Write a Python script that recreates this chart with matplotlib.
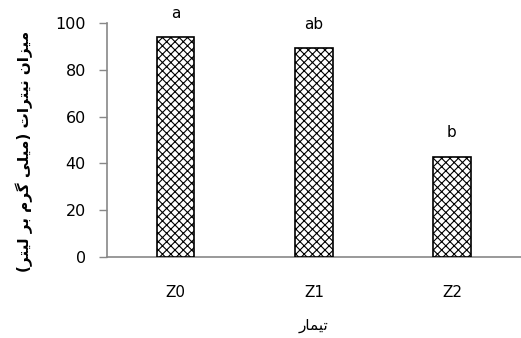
import matplotlib
matplotlib.use('Agg')
import matplotlib.pyplot as plt

treatments = ['Z0', 'Z1', 'Z2']
nitrate = [93.8, 89.2, 42.9]
letters = ['a', 'ab', 'b']
y_label = 'میزان نیترات (میلی گرم بر لیتر)'
x_label = 'تیمار'

# presentation forms: (isolated, final, initial, medial); None -> does not join to next letter
forms = {
    'م': ('\uFEE1', '\uFEE2', '\uFEE3', '\uFEE4'),
    'ی': ('\uFBFC', '\uFBFD', '\uFBFE', '\uFBFF'),
    'ز': ('\uFEAF', '\uFEB0', None, None),
    'ا': ('\uFE8D', '\uFE8E', None, None),
    'ن': ('\uFEE5', '\uFEE6', '\uFEE7', '\uFEE8'),
    'ت': ('\uFE95', '\uFE96', '\uFE97', '\uFE98'),
    'ر': ('\uFEAD', '\uFEAE', None, None),
    'ل': ('\uFEDD', '\uFEDE', '\uFEDF', '\uFEE0'),
    'گ': ('\uFB92', '\uFB93', '\uFB94', '\uFB95'),
    'ب': ('\uFE8F', '\uFE90', '\uFE91', '\uFE92'),
}

def shape(text):
    out = []
    for i, ch in enumerate(text):
        if ch not in forms:
            out.append(ch)
            continue
        prev = text[i - 1] if i > 0 else ''
        nxt = text[i + 1] if i + 1 < len(text) else ''
        joins_prev = prev in forms and forms[prev][2] is not None
        joins_next = nxt in forms and forms[ch][2] is not None
        f = forms[ch]
        if joins_prev and joins_next:
            out.append(f[3])
        elif joins_prev:
            out.append(f[1])
        elif joins_next:
            out.append(f[2])
        else:
            out.append(f[0])
    vis = ''.join(reversed(out))
    return vis.translate(str.maketrans('()', ')('))

plt.rcParams['font.family'] = ['DejaVu Sans']
plt.rcParams['hatch.linewidth'] = 0.8

fig = plt.figure(figsize=(5.21, 3.38), dpi=100)
ax = fig.add_axes([0.205, 0.24, 0.795, 0.692])

x = range(len(treatments))
bars = ax.bar(x, nitrate, width=0.27, color='white', edgecolor='black',
              hatch='xxxx', linewidth=1.2, zorder=3)

for xi, v, t in zip(x, nitrate, letters):
    ax.annotate(t, (xi, v), xytext=(0, 17), textcoords='offset points',
                ha='center', va='center', fontsize=11)

ax.set_xlim(-0.5, 2.5)
ax.set_ylim(0, 100)
ax.set_yticks([0, 20, 40, 60, 80, 100])
ax.set_xticks(list(x))
ax.set_xticklabels(treatments)
ax.tick_params(axis='y', length=6, width=1, color='#888888', pad=9, labelsize=11.5)
ax.tick_params(axis='x', length=0, pad=20, labelsize=11)

for s in ['top', 'right']:
    ax.spines[s].set_visible(False)
for s in ['left', 'bottom']:
    ax.spines[s].set_color('#888888')
    ax.spines[s].set_linewidth(1.2)

ax.set_ylabel(shape(y_label), fontsize=11, fontweight='bold')
ax.yaxis.set_label_coords(-0.178, 0.45)
ax.set_xlabel(shape(x_label), fontsize=11, labelpad=13)

fig.savefig('out.png', dpi=100)
